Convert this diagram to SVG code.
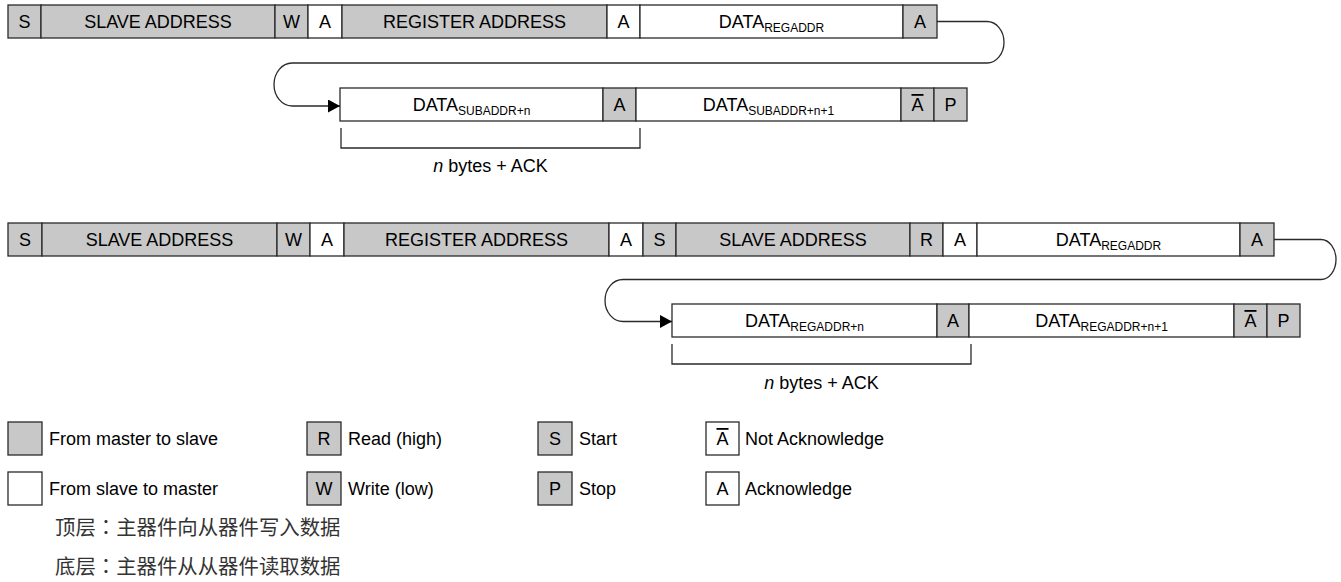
<svg xmlns="http://www.w3.org/2000/svg" width="1341" height="582" viewBox="0 0 1341 582">
<style>
.g{fill:#c8c8c8;stroke:#2a2a2a;stroke-width:1.3}
.w{fill:#ffffff;stroke:#2a2a2a;stroke-width:1.3}
.t{font-family:"Liberation Sans",Arial,sans-serif;font-size:18px;fill:#000;text-anchor:middle}
.s{font-size:12px}
.l{font-family:"Liberation Sans",Arial,sans-serif;font-size:18px;fill:#000}
.c{font-family:"Noto Sans CJK SC",sans-serif;font-size:20.4px;fill:#333}
.cc{font-family:"Noto Sans CJK TC","Noto Sans CJK JP",sans-serif}
.ln{fill:none;stroke:#2a2a2a;stroke-width:1.3}
.ob{text-decoration:overline}
</style>
<defs>
<marker id="ah" markerUnits="userSpaceOnUse" markerWidth="13" markerHeight="14" refX="12" refY="6.5" orient="auto">
<path d="M0,0 L12,6.5 L0,13 z" fill="#000"/>
</marker>
</defs>

<g id="row1">
<g id="r1-s"><rect class="g" x="8" y="5" width="33" height="33"/><text class="t" x="24.5" y="28">S</text></g>
<g id="r1-sa"><rect class="g" x="41" y="5" width="234" height="33"/><text class="t" x="158" y="28">SLAVE ADDRESS</text></g>
<g id="r1-w"><rect class="g" x="275" y="5" width="33" height="33"/><text class="t" x="291.5" y="28">W</text></g>
<g id="r1-a1"><rect class="w" x="308" y="5" width="34" height="33"/><text class="t" x="325" y="28">A</text></g>
<g id="r1-ra"><rect class="g" x="342" y="5" width="265" height="33"/><text class="t" x="474.5" y="28">REGISTER ADDRESS</text></g>
<g id="r1-a2"><rect class="w" x="607" y="5" width="33" height="33"/><text class="t" x="623.5" y="28">A</text></g>
<g id="r1-d"><rect class="w" x="640" y="5" width="263" height="33"/><text class="t" x="771.5" y="28">DATA<tspan class="s" dy="4">REGADDR</tspan></text></g>
<g id="r1-a3"><rect class="g" x="903" y="5" width="34" height="33"/><text class="t" x="920" y="28">A</text></g>
</g>

<g id="row2">
<g id="r2-d1"><rect class="w" x="340" y="88" width="263" height="33"/><text class="t" x="471.5" y="111">DATA<tspan class="s" dy="4">SUBADDR+n</tspan></text></g>
<g id="r2-a"><rect class="g" x="603" y="88" width="33" height="33"/><text class="t" x="619.5" y="111">A</text></g>
<g id="r2-d2"><rect class="w" x="636" y="88" width="265" height="33"/><text class="t" x="768.5" y="111">DATA<tspan class="s" dy="4">SUBADDR+n+1</tspan></text></g>
<g id="r2-na"><rect class="g" x="901" y="88" width="33" height="33"/><text class="t" x="917.5" y="111"><tspan class="ob">A</tspan></text></g>
<g id="r2-p"><rect class="g" x="934" y="88" width="33" height="33"/><text class="t" x="950.5" y="111">P</text></g>
</g>
<g id="brace1"><path class="ln" d="M341,128 V148 H640 V128"/><text class="t" x="490.5" y="172"><tspan font-style="italic">n</tspan> bytes + ACK</text></g>

<g id="row3">
<g id="r3-s"><rect class="g" x="8" y="223" width="34" height="33"/><text class="t" x="25" y="246">S</text></g>
<g id="r3-sa"><rect class="g" x="42" y="223" width="235" height="33"/><text class="t" x="159.5" y="246">SLAVE ADDRESS</text></g>
<g id="r3-w"><rect class="g" x="277" y="223" width="33" height="33"/><text class="t" x="293.5" y="246">W</text></g>
<g id="r3-a1"><rect class="w" x="310" y="223" width="34" height="33"/><text class="t" x="327" y="246">A</text></g>
<g id="r3-ra"><rect class="g" x="344" y="223" width="265" height="33"/><text class="t" x="476.5" y="246">REGISTER ADDRESS</text></g>
<g id="r3-a2"><rect class="w" x="609" y="223" width="34" height="33"/><text class="t" x="626" y="246">A</text></g>
<g id="r3-s2"><rect class="g" x="643" y="223" width="33" height="33"/><text class="t" x="659.5" y="246">S</text></g>
<g id="r3-sa2"><rect class="g" x="676" y="223" width="234" height="33"/><text class="t" x="793" y="246">SLAVE ADDRESS</text></g>
<g id="r3-r"><rect class="g" x="910" y="223" width="33" height="33"/><text class="t" x="926.5" y="246">R</text></g>
<g id="r3-a3"><rect class="w" x="943" y="223" width="34" height="33"/><text class="t" x="960" y="246">A</text></g>
<g id="r3-d"><rect class="w" x="977" y="223" width="263" height="33"/><text class="t" x="1108.5" y="246">DATA<tspan class="s" dy="4">REGADDR</tspan></text></g>
<g id="r3-a4"><rect class="g" x="1240" y="223" width="34" height="33"/><text class="t" x="1257" y="246">A</text></g>
</g>

<g id="row4">
<g id="r4-d1"><rect class="w" x="672" y="304" width="265" height="33"/><text class="t" x="804.5" y="327">DATA<tspan class="s" dy="4">REGADDR+n</tspan></text></g>
<g id="r4-a"><rect class="g" x="937" y="304" width="32" height="33"/><text class="t" x="953" y="327">A</text></g>
<g id="r4-d2"><rect class="w" x="969" y="304" width="265" height="33"/><text class="t" x="1101.5" y="327">DATA<tspan class="s" dy="4">REGADDR+n+1</tspan></text></g>
<g id="r4-na"><rect class="g" x="1234" y="304" width="33" height="33"/><text class="t" x="1250.5" y="327"><tspan class="ob">A</tspan></text></g>
<g id="r4-p"><rect class="g" x="1267" y="304" width="33" height="33"/><text class="t" x="1283.5" y="327">P</text></g>
</g>
<g id="brace2"><path class="ln" d="M672,344 V364 H971 V344"/><text class="t" x="821.5" y="389"><tspan font-style="italic">n</tspan> bytes + ACK</text></g>

<g id="connectors">
<path class="ln" d="M937,21.5 H987 A17,20.75 0 0 1 987,63 H292 A18,21.5 0 0 0 292,106 H340" marker-end="url(#ah)"/>
<path class="ln" d="M1274,239.5 H1321 A15,20 0 0 1 1321,279.5 H623 A18,21 0 0 0 623,321.5 H672" marker-end="url(#ah)"/>
</g>

<g id="legend">
<g id="lg1"><rect class="g" x="8" y="422" width="34" height="33"/><text class="l" x="49" y="445">From master to slave</text></g>
<g id="lg2"><rect class="w" x="8" y="472" width="34" height="33"/><text class="l" x="49" y="495">From slave to master</text></g>
<g id="lg3"><rect class="g" x="307" y="422" width="34" height="33"/><text class="t" x="324" y="445">R</text><text class="l" x="348" y="445">Read (high)</text></g>
<g id="lg4"><rect class="g" x="307" y="472" width="34" height="33"/><text class="t" x="324" y="495">W</text><text class="l" x="348" y="495">Write (low)</text></g>
<g id="lg5"><rect class="g" x="538" y="422" width="34" height="33"/><text class="t" x="555" y="445">S</text><text class="l" x="579" y="445">Start</text></g>
<g id="lg6"><rect class="g" x="538" y="472" width="34" height="33"/><text class="t" x="555" y="495">P</text><text class="l" x="579" y="495">Stop</text></g>
<g id="lg7"><rect class="w" x="706" y="422" width="33" height="33"/><text class="t" x="722.5" y="445"><tspan class="ob">A</tspan></text><text class="l" x="745" y="445">Not Acknowledge</text></g>
<g id="lg8"><rect class="w" x="706" y="472" width="33" height="33"/><text class="t" x="722.5" y="495">A</text><text class="l" x="745" y="495">Acknowledge</text></g>
</g>

<g id="caption">
<text class="c" x="55" y="535">顶层<tspan class="cc">：</tspan>主器件向从器件写入数据</text>
<text class="c" x="55" y="574">底层<tspan class="cc">：</tspan>主器件从从器件读取数据</text>
</g>
</svg>
